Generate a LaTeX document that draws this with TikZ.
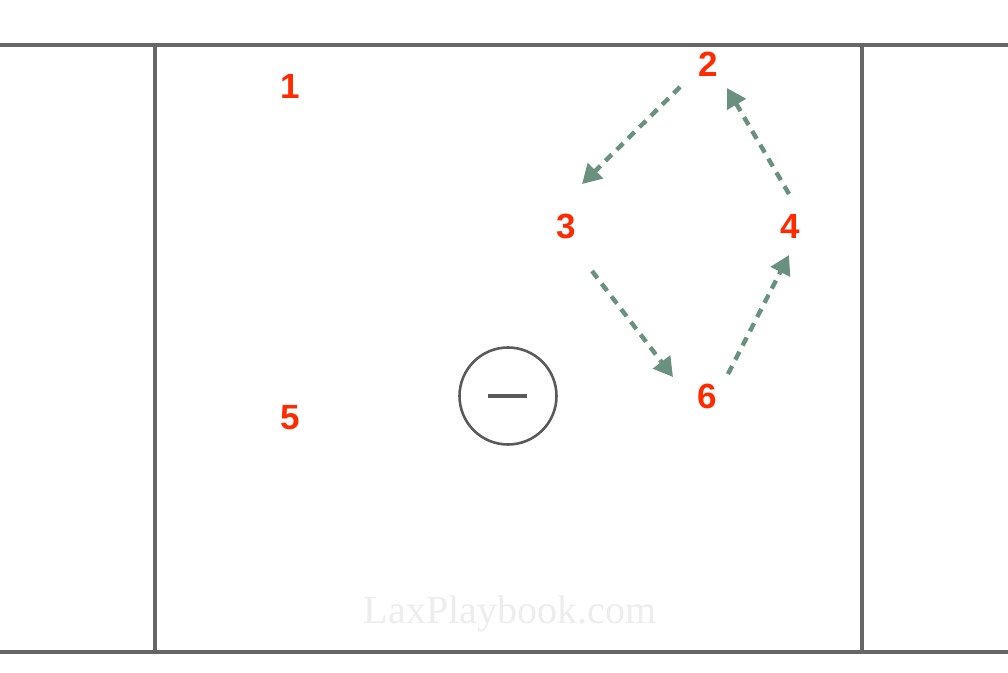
\documentclass[tikz,border=0pt]{standalone}
\usepackage{fontspec}
\setmainfont{Liberation Sans}
\newfontfamily\wmfont{Liberation Serif}
\usetikzlibrary{arrows.meta}
\definecolor{fieldline}{HTML}{666666}
\definecolor{playerred}{HTML}{FF2A00}
\definecolor{runcol}{HTML}{6A907F}
\definecolor{wmgrey}{HTML}{EDEDED}
\definecolor{goalcol}{HTML}{5A5A5A}
\tikzset{
  field/.style={draw=fieldline, line width=3.2pt},
  player/.style={text=playerred, font=\fontsize{35}{35}\selectfont\bfseries, inner sep=0pt},
  run/.style={draw=runcol, line width=4.4pt, dash pattern=on 9pt off 7pt,
    -{Triangle[length=19pt,width=21pt]}},
  goal/.style={circle, draw=goalcol, line width=2.6pt, minimum size=97pt, inner sep=0pt},
  watermark/.style={text=wmgrey, font=\wmfont\fontsize{40}{40}\selectfont, inner sep=0pt}
}
\begin{document}
\begin{tikzpicture}[x=1pt,y=-1pt]
\useasboundingbox (0,0) rectangle (1008,672);
\fill[white] (0,0) rectangle (1008,672);
% field lines
\coordinate (tl) at (0,45);
\coordinate (tr) at (1008,45);
\coordinate (bl) at (0,652);
\coordinate (br) at (1008,652);
\coordinate (lt) at (155,45);
\coordinate (lb) at (155,652);
\coordinate (rt) at (862,45);
\coordinate (rb) at (862,652);
\draw[field] (tl) -- (tr);
\draw[field] (bl) -- (br);
\draw[field] (lt) -- (lb);
\draw[field] (rt) -- (rb);
% watermark
\node[watermark] (wm) at (510,614) {LaxPlaybook.com};
% goal
\node[goal] (goal) at (508,396) {};
\coordinate (mL) at (488,396);
\coordinate (mR) at (527,396);
\draw[goalcol, line width=4pt] (mL) -- (mR);
% players
\node[player] (p1) at (290,86) {1};
\node[player] (p2) at (708,64) {2};
\node[player] (p3) at (566,226) {3};
\node[player] (p4) at (790,226) {4};
\node[player] (p5) at (290,418) {5};
\node[player] (p6) at (707,396) {6};
% run coordinates
\coordinate (r23s) at (680,87);
\coordinate (r23e) at (582,184);
\coordinate (r42s) at (789,194);
\coordinate (r42e) at (727,88);
\coordinate (r36s) at (592,271);
\coordinate (r36e) at (673,377);
\coordinate (r64s) at (728,374);
\coordinate (r64e) at (789,255);
\draw[run] (r23s) -- (r23e);
\draw[run] (r42s) -- (r42e);
\draw[run] (r36s) -- (r36e);
\draw[run] (r64s) -- (r64e);
\end{tikzpicture}
\end{document}
